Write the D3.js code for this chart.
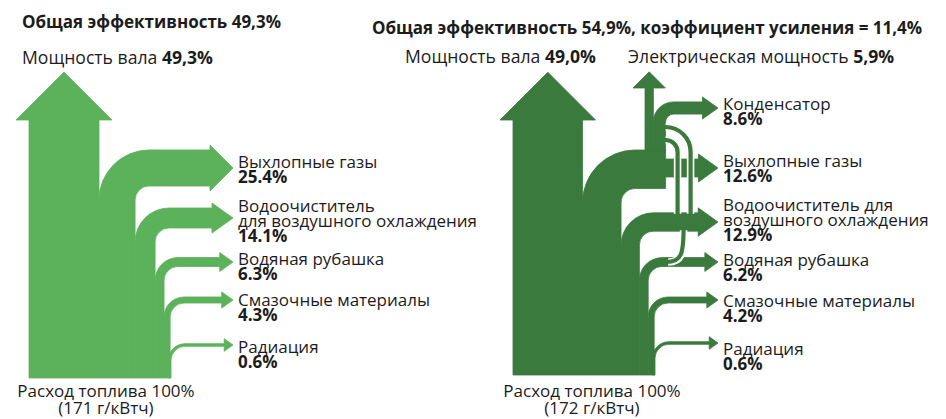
<!DOCTYPE html>
<html>
<head>
<meta charset="utf-8">
<script src="https://cdn.jsdelivr.net/npm/d3@7"></script>
<style>
  html, body { margin: 0; padding: 0; background: #ffffff; }
  svg { display: block; }
  text { font-family: "Open Sans", sans-serif; font-size: 17px; fill: #1c1c1c; }
  .b { font-weight: 700; }
  .top { font-size: 17.6px; }
</style>
</head>
<body>
<svg id="chart" width="946" height="419"></svg>
<script>
// ---- Conventional engine -------------------------------------------------
const leftEfficiency = 49.3;
const leftShaft = 49.3;
const leftFuelShare = 100;
const leftFuelRate = 171;
const leftLossNames = [
  ["Выхлопные газы"],
  ["Водоочиститель", "для воздушного охлаждения"],
  ["Водяная рубашка"],
  ["Смазочные материалы"],
  ["Радиация"]
];
const leftLossValues = [25.4, 14.1, 6.3, 4.3, 0.6];

// ---- Engine with waste heat recovery ---------------------------------------
const rightEfficiency = 54.9;
const rightGain = 11.4;
const rightShaft = 49.0;
const rightElectric = 5.9;
const rightCondenser = 8.6;
const rightFuelShare = 100;
const rightFuelRate = 172;
const rightLossNames = [
  ["Выхлопные газы"],
  ["Водоочиститель для", "воздушного охлаждения"],
  ["Водяная рубашка"],
  ["Смазочные материалы"],
  ["Радиация"]
];
const rightLossValues = [12.6, 12.9, 6.2, 4.2, 0.6];

// ---- Layout ---------------------------------------------------------------
const leftLayout = {
  trunkX: 29, bottom: 378, headBase: 120, tipX: 233, labelX: 238,
  rowY: [168, 218, 262, 300, 345],
  labelY: [168, 212, 265, 306, 353],
  color: "#5cb25a"
};
const rightLayout = {
  trunkX: 513, bottom: 375, headBase: 120, tipX: 718, labelX: 723,
  rowY: [168, 222, 262, 300, 343],
  labelY: [167, 211, 266, 307, 355],
  condenserY: 108, condenserLabelY: 110,
  streamTop: 150, columnX: 645, electricBase: 88,
  color: "#3b7a3d"
};
const lineGap = 15;
const rInner = 14;
const minBand = 2.6;

const svg = d3.select("#chart");
// percent of fuel energy -> band width in px
const k = d3.scaleLinear().domain([0, 100]).range([0, 142]);

const pct = v => v.toFixed(1) + "%";
const pctComma = v => v.toFixed(1).replace(".", ",") + "%";

function headSize(wd) {
  const half = wd / 2 + 5;
  return { half, len: Math.min(23, 1.4 * half) };
}

// Vertical trunk slice [x0,x1] that bends right into a horizontal arrow centred on yc
function elbowPath(x0, x1, bottom, yc, rIn, tipX) {
  let wd = x1 - x0;
  if (wd < minBand) { x0 = x1 - minBand; wd = minBand; }
  const yt = yc - wd / 2, yb = yc + wd / 2;
  const cx = x1 + rIn, cy = yb + rIn, rOut = rIn + wd;
  const { half, len } = headSize(wd);
  const xa = tipX - len;
  const p = d3.path();
  p.moveTo(x0, bottom);
  p.lineTo(x0, cy);
  p.arc(cx, cy, rOut, Math.PI, 1.5 * Math.PI, false);
  p.lineTo(xa, yt);
  p.lineTo(xa, yc - half);
  p.lineTo(tipX, yc);
  p.lineTo(xa, yc + half);
  p.lineTo(xa, yb);
  p.lineTo(cx, yb);
  p.arc(cx, cy, rIn, 1.5 * Math.PI, Math.PI, true);
  p.lineTo(x1, bottom);
  p.closePath();
  return p.toString();
}

// Straight vertical arrow pointing up
function upArrowPath(x0, x1, bottom, baseY, extra) {
  const c = (x0 + x1) / 2, half = (x1 - x0) / 2 + extra, len = half;
  const p = d3.path();
  p.moveTo(x0, bottom);
  p.lineTo(x0, baseY);
  p.lineTo(c - half, baseY);
  p.lineTo(c, baseY - len);
  p.lineTo(c + half, baseY);
  p.lineTo(x1, baseY);
  p.lineTo(x1, bottom);
  p.closePath();
  return p.toString();
}

// Horizontal arrow band starting at xs
function rightArrowPath(xs, yc, wd, tipX) {
  const { half, len } = headSize(wd);
  const xa = tipX - len;
  const p = d3.path();
  p.moveTo(xs, yc - wd / 2);
  p.lineTo(xa, yc - wd / 2);
  p.lineTo(xa, yc - half);
  p.lineTo(tipX, yc);
  p.lineTo(xa, yc + half);
  p.lineTo(xa, yc + wd / 2);
  p.lineTo(xs, yc + wd / 2);
  p.closePath();
  return p.toString();
}

// Thin return stream: white casing with a green core
function thinStream(g, d, dCore, color) {
  g.append("path").attr("d", d).attr("stroke", "#ffffff").attr("stroke-width", 7.5);
  g.append("path").attr("d", dCore).attr("stroke", color).attr("stroke-width", 4.2);
}

function label(g, x, y, lines, value, fmt) {
  const t = g.append("text").attr("x", x).attr("y", y);
  lines.forEach((ln, i) => {
    t.append("tspan").attr("x", x).attr("y", y + i * lineGap).text(ln);
  });
  t.append("tspan").attr("class", "b").attr("x", x)
    .attr("y", y + lines.length * lineGap).text(fmt(value));
}

function titleText(x, y, text) {
  svg.append("text").attr("class", "b").attr("x", x).attr("y", y).text(text);
}

function mixedText(x, y, plain, bold) {
  const t = svg.append("text").attr("class", "top").attr("x", x).attr("y", y);
  t.append("tspan").text(plain);
  t.append("tspan").attr("class", "b").text(bold);
}

function fuelText(cx, share, rate) {
  svg.append("text").attr("x", cx).attr("y", 397).attr("text-anchor", "middle")
    .text("Расход топлива " + share + "%");
  svg.append("text").attr("x", cx).attr("y", 414).attr("text-anchor", "middle")
    .text("(" + rate + " г/кВтч)");
}

function flowGroup(color) {
  // a hairline of the fill colour closes the seams between neighbouring streams
  return svg.append("g").attr("fill", color).attr("stroke", color)
    .attr("stroke-width", 0.8).attr("stroke-linejoin", "round");
}

// ================= Left diagram =================
{
  const L = leftLayout;
  const g = flowGroup(L.color);
  const shaftX1 = L.trunkX + k(leftShaft);
  g.append("path").attr("d", upArrowPath(L.trunkX, shaftX1, L.bottom, L.headBase, 13));
  let x = shaftX1;
  leftLossValues.forEach((v, i) => {
    const x1 = x + k(v);
    g.append("path").attr("d", elbowPath(x, x1, L.bottom, L.rowY[i], rInner, L.tipX));
    x = x1;
  });
  const lg = svg.append("g");
  leftLossValues.forEach((v, i) => label(lg, L.labelX, L.labelY[i], leftLossNames[i], v, pct));

  titleText(22, 28, "Общая эффективность " + pctComma(leftEfficiency));
  mixedText(22, 64, "Мощность вала ", pctComma(leftShaft));
  fuelText(L.trunkX + k(leftFuelShare) / 2 + 6, leftFuelShare, leftFuelRate);
}

// ================= Right diagram =================
{
  const R = rightLayout;
  const g = flowGroup(R.color);
  const shaftX1 = R.trunkX + k(rightShaft);
  g.append("path").attr("d", upArrowPath(R.trunkX, shaftX1, R.bottom, R.headBase, 13));

  // exhaust gas stream before recovery = electric + condenser + remaining exhaust
  const exhaustTotal = rightElectric + rightCondenser + rightLossValues[0];
  const exX0 = shaftX1, exX1 = shaftX1 + k(exhaustTotal);
  const exWd = k(exhaustTotal);
  const exYt = R.streamTop;
  const exYb = exYt + exWd;
  const colX0 = R.columnX;
  const colX1 = colX0 + k(rightElectric + rightCondenser);
  {
    const cx = exX1 + rInner, cy = exYb + rInner, rOut = rInner + exWd;
    const p = d3.path();
    p.moveTo(exX0, R.bottom);
    p.lineTo(exX0, cy);
    p.arc(cx, cy, rOut, Math.PI, 1.5 * Math.PI, false);
    p.lineTo(colX1, exYt);
    p.lineTo(colX1, exYb);
    p.lineTo(cx, exYb);
    p.arc(cx, cy, rInner, 1.5 * Math.PI, Math.PI, true);
    p.lineTo(exX1, R.bottom);
    p.closePath();
    g.append("path").attr("d", p.toString());
  }
  // remaining exhaust leaving the recovery unit
  g.append("path").attr("d",
    rightArrowPath(colX1 - 0.5, R.rowY[0], k(rightLossValues[0]), R.tipX));
  // recovery column: electric power straight up, condenser bending right
  const elX1 = colX0 + k(rightElectric);
  g.append("path").attr("d", upArrowPath(colX0, elX1, exYt + 1, R.electricBase, 12));
  g.append("path").attr("d", elbowPath(elX1, colX1, exYt + 1, R.condenserY, 8, R.tipX));

  // the other losses straight from the trunk
  let x = exX1;
  const elbows = [];
  rightLossValues.slice(1).forEach((v, j) => {
    const i = j + 1;
    const x1 = x + k(v);
    elbows.push({ x0: x, x1 });
    g.append("path").attr("d", elbowPath(x, x1, R.bottom, R.rowY[i], rInner, R.tipX));
    x = x1;
  });

  // heat returned from the air cooler to the recovery unit
  const coolerTop = R.rowY[1] - k(rightLossValues[1]) / 2;
  const coolerBottom = R.rowY[1] + k(rightLossValues[1]) / 2;
  const arcY = exYt + 2;
  const thin = svg.append("g").attr("fill", "none");
  [12, 25].forEach(r => {
    const p = d3.path();
    p.moveTo(colX1 + r, coolerTop + 1);
    p.lineTo(colX1 + r, arcY);
    p.arc(colX1, arcY, r, 0, -0.5 * Math.PI, true);
    const q = d3.path();
    q.moveTo(colX1 + r, coolerTop + 4);
    q.lineTo(colX1 + r, arcY);
    q.arc(colX1, arcY, r, 0, -0.5 * Math.PI, true);
    q.lineTo(colX1 - 2, arcY - r);
    thinStream(thin, p.toString(), q.toString(), R.color);
  });
  // jacket water heat joining the air cooler stream
  {
    const jx = elbows[1].x1 + rInner + 4, jy = R.rowY[2];
    const ux = colX1 + 18;
    const p = d3.path();
    p.moveTo(jx + 2, jy);
    p.bezierCurveTo(ux - 2, jy, ux, jy - 8, ux, coolerBottom - 1);
    const q = d3.path();
    q.moveTo(jx, jy);
    q.bezierCurveTo(ux - 2, jy, ux, jy - 8, ux, coolerBottom - 4);
    thinStream(thin, p.toString(), q.toString(), R.color);
  }

  const lg = svg.append("g");
  rightLossValues.forEach((v, i) => label(lg, R.labelX, R.labelY[i], rightLossNames[i], v, pct));
  label(lg, R.labelX, R.condenserLabelY, ["Конденсатор"], rightCondenser, pct);

  titleText(372, 34, "Общая эффективность " + pctComma(rightEfficiency) +
    ", коэффициент усиления = " + pctComma(rightGain));
  mixedText(405, 63, "Мощность вала ", pctComma(rightShaft));
  mixedText(628, 63, "Электрическая мощность ", pctComma(rightElectric));
  fuelText(R.trunkX + k(rightFuelShare) / 2 + 8, rightFuelShare, rightFuelRate);
}
</script>
</body>
</html>
